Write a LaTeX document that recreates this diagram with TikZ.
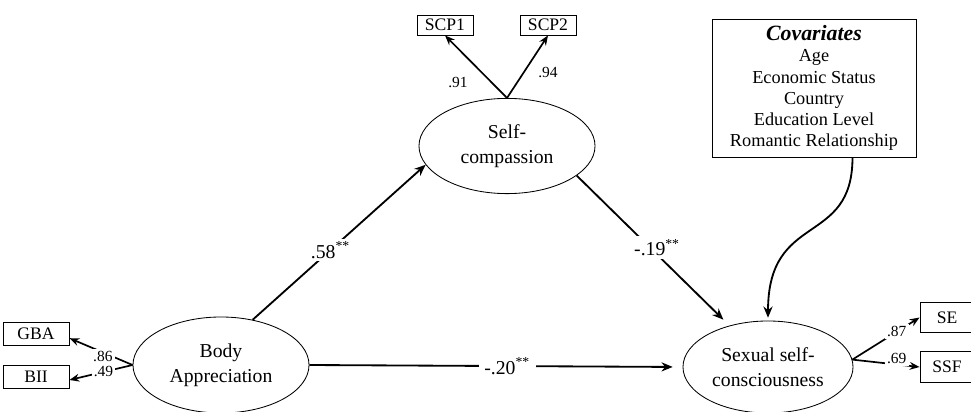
\documentclass[tikz,border=0pt]{standalone}
\usepackage{fontspec}
\setmainfont{Liberation Serif}
\usepackage{tikz}
\usetikzlibrary{arrows.meta, positioning, calc, shapes}
\tikzset{>={Stealth[length=8pt, width=6.5pt]}}
\tikzset{latent/.style={draw, ellipse, line width=0.6pt, inner sep=0pt, align=center, font=\fontsize{14}{17.5}\selectfont},
	indicator/.style={draw, rectangle, line width=0.6pt, inner sep=0pt, font=\fontsize{12.5}{15}\selectfont},
	effect/.style={->, line width=1.3pt},
	loadarrow/.style={-{Stealth[length=7pt, width=5.5pt]}, line width=1.2pt},
	coef/.style={fill=white, inner xsep=4pt, inner ysep=2pt, font=\fontsize{14}{17}\selectfont},
	loading/.style={inner sep=1pt, font=\fontsize{11}{13}\selectfont},
	cutloading/.style={loading, fill=white, inner sep=1.5pt}}

\begin{document}
\begin{tikzpicture}[x=0.025cm, y=-0.025cm]

	\useasboundingbox (0,0) rectangle (971,412);

	% latent variables
	\node [latent, minimum width=4.4cm, minimum height=2.4cm] (body) at (221,365) {Body\\Appreciation};
	\node [latent, minimum width=4.4cm, minimum height=2.38cm] (self) at (507,146) {Self-\\compassion};
	\node [latent, minimum width=4.25cm, minimum height=2.3cm] (ssc) at (768,367) {Sexual self-\\consciousness};

	% indicators
	\node [indicator, minimum width=1.65cm, minimum height=0.575cm] (gba) at (36,333.5) {GBA};
	\node [indicator, minimum width=1.65cm, minimum height=0.575cm] (bii) at (36,376.5) {BII};
	\node [indicator, minimum width=1.4cm, minimum height=0.5cm] (scp1) at (445,25) {SCP1};
	\node [indicator, minimum width=1.4cm, minimum height=0.5cm] (scp2) at (548,25) {SCP2};
	\node [indicator, minimum width=1.35cm, minimum height=0.77cm] (se) at (947,317.5) {SE};
	\node [indicator, minimum width=1.35cm, minimum height=0.77cm] (ssf) at (947,367) {SSF};

	% covariates
	\node [draw, line width=0.6pt, minimum width=5.1cm, minimum height=3.45cm, align=center, font=\fontsize{13}{15}\selectfont] (cov) at (814,88)
		{{\fontsize{15.5}{15}\selectfont\bfseries\itshape Covariates}\\Age\\Economic Status\\Country\\Education Level\\Romantic Relationship};

	% loadings
	\draw [loadarrow] (body.west) -- node [cutloading, pos=0.47, yshift=-3pt] (l86) {.86} (gba.352);
	\draw [loadarrow] (body.west) -- node [cutloading, pos=0.46] (l49) {.49} (bii.354);
	\draw [loadarrow] (self.north) -- (scp1.south);
	\draw [loadarrow] (self.north) -- (scp2.south);
	\draw [loadarrow] (ssc.5) -- node [cutloading, pos=0.66] (l87) {.87} (se.west);
	\draw [loadarrow] (ssc.5) -- node [cutloading, pos=0.66, yshift=4pt] (l69) {.69} (ssf.west);

	\node [loading] (l91) at (458,82) {.91};
	\node [loading] (l94) at (548,72) {.94};

	% structural paths
	\draw [effect] (body.55) -- node [coef, pos=0.45] (c58) {.58\textsuperscript{**}} (self.193);
	\draw [effect, shorten >=6pt] (self.337) -- node [coef, pos=0.48, xshift=5pt] (c19) {-.19\textsuperscript{**}} (ssc.133);
	\draw [effect, shorten >=7pt] (body.east) -- node [coef, pos=0.53] (c20) {-.20\textsuperscript{**}} (ssc.west);
	\draw [effect, shorten >=2pt] (cov.299) .. controls +(0,90) and +(0,-110) .. (ssc.north);

\end{tikzpicture}
\end{document}
